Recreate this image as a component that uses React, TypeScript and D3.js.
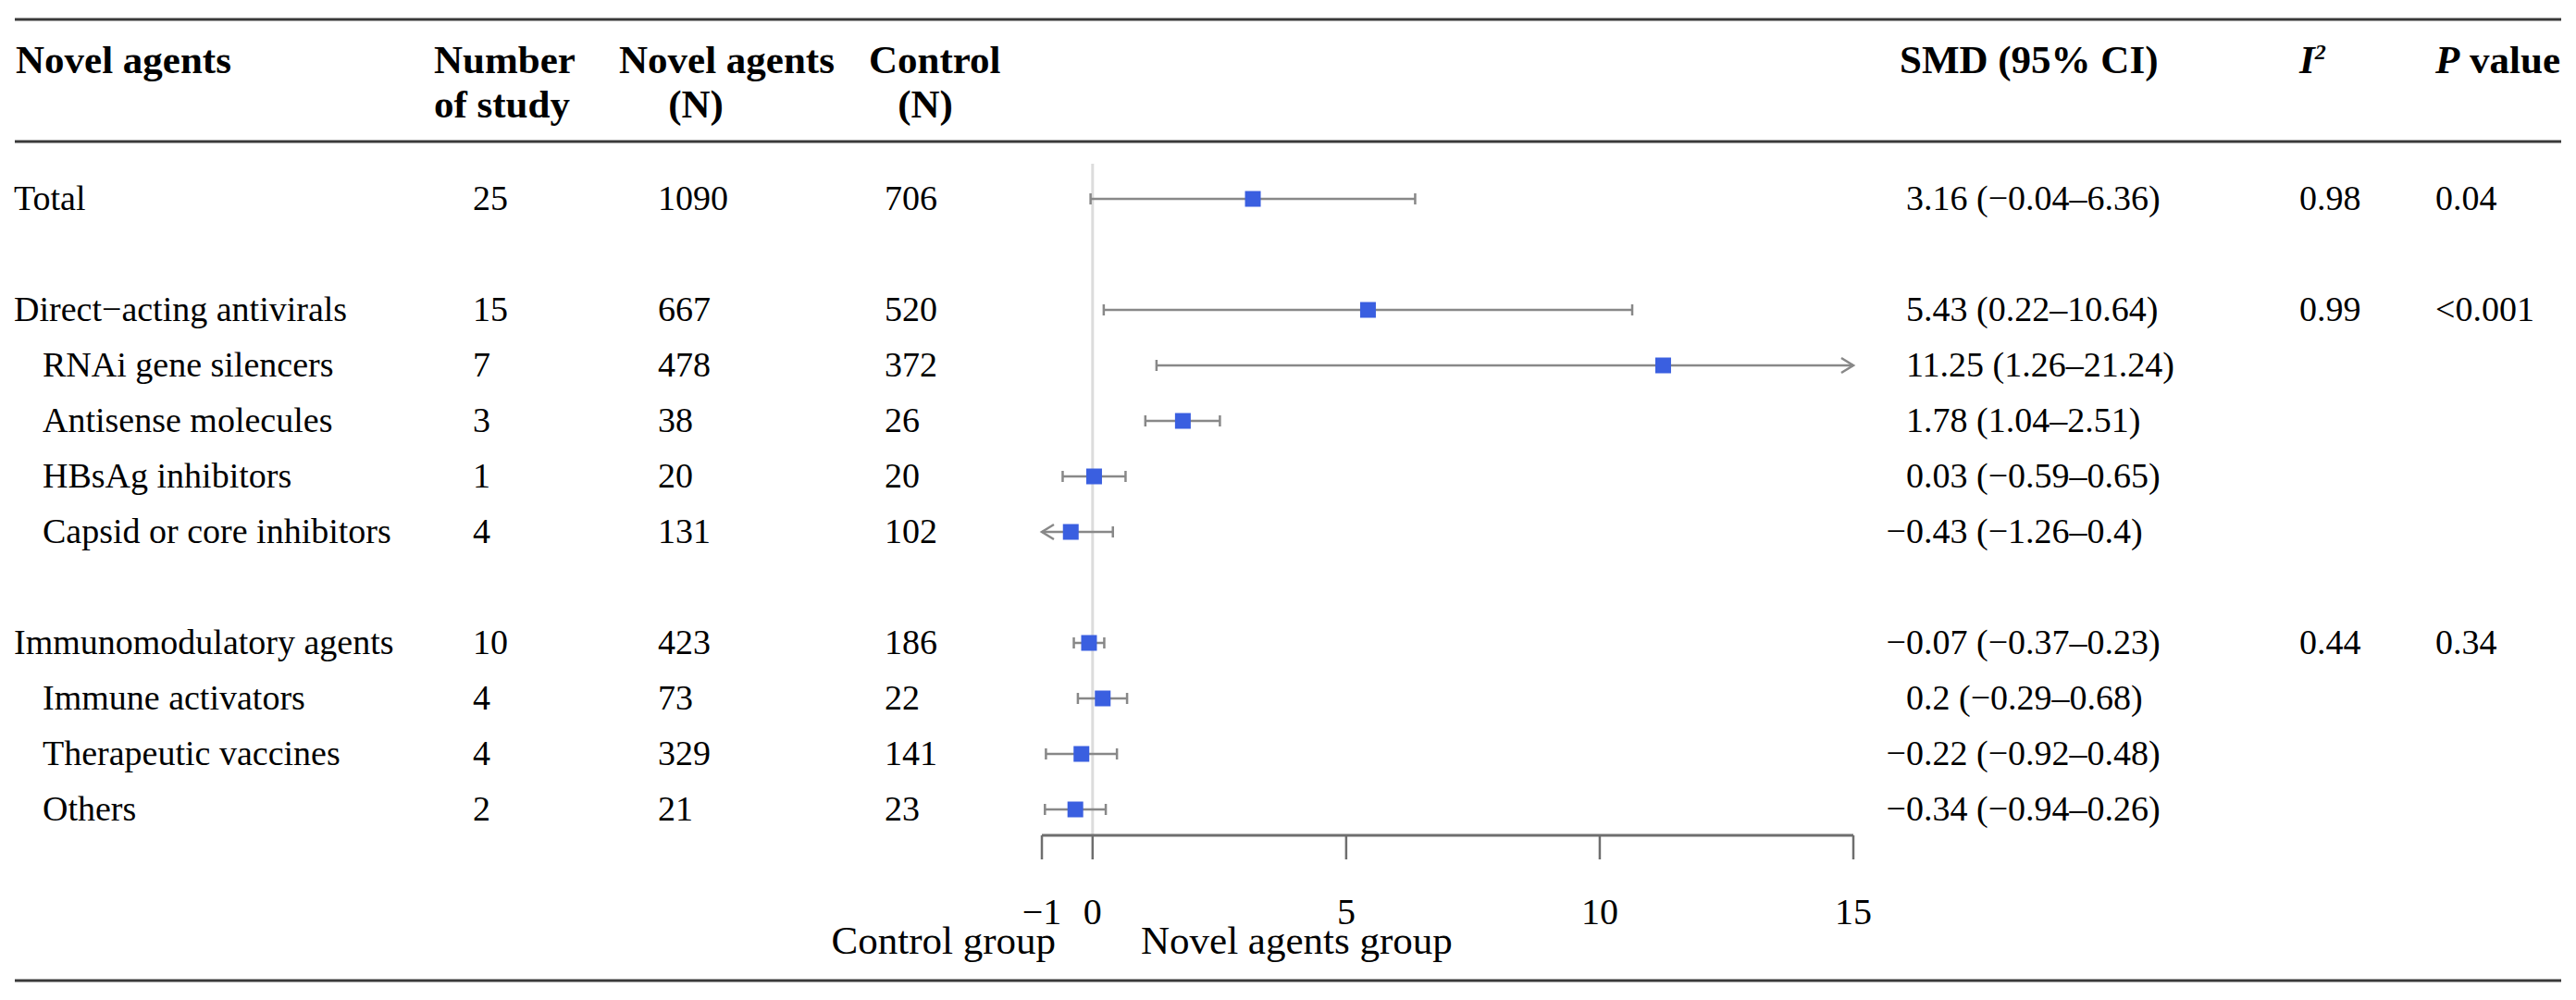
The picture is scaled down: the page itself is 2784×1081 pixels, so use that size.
import React from "react";
import * as d3 from "d3";

const labels = [
  "Total",
  "Direct−acting antivirals",
  "RNAi gene silencers",
  "Antisense molecules",
  "HBsAg inhibitors",
  "Capsid or core inhibitors",
  "Immunomodulatory agents",
  "Immune activators",
  "Therapeutic vaccines",
  "Others",
];
const indent = [0, 0, 1, 1, 1, 1, 0, 1, 1, 1];
const rowSlot = [0, 2, 3, 4, 5, 6, 8, 9, 10, 11];
const nStudy = [25, 15, 7, 3, 1, 4, 10, 4, 4, 2];
const nNovel = [1090, 667, 478, 38, 20, 131, 423, 73, 329, 21];
const nControl = [706, 520, 372, 26, 20, 102, 186, 22, 141, 23];
const smd = [3.16, 5.43, 11.25, 1.78, 0.03, -0.43, -0.07, 0.2, -0.22, -0.34];
const lower = [-0.04, 0.22, 1.26, 1.04, -0.59, -1.26, -0.37, -0.29, -0.92, -0.94];
const upper = [6.36, 10.64, 21.24, 2.51, 0.65, 0.4, 0.23, 0.68, 0.48, 0.26];
const i2 = ["0.98", "0.99", "", "", "", "", "0.44", "", "", ""];
const pValue = ["0.04", "<0.001", "", "", "", "", "0.34", "", "", ""];
const xTicks = [-1, 0, 5, 10, 15];

const W = 2784;
const H = 1081;
const FONT = "'Liberation Serif', 'Times New Roman', serif";
const BODY = 38;
const HEAD = 43;

const fmt = (v: number) => String(v).replace("-", "−");

export default function App() {
  const x = d3.scaleLinear().domain([-1, 15]).range([1126, 2003]);
  const y = d3.scaleLinear().domain([0, 11]).range([215, 875]);
  const axisY = 903;
  const capH = 6;
  const sq = 17;
  const lineColor = "#888888";
  const blue = "#3a5fe0";

  return (
    <svg
      width={W}
      height={H}
      viewBox={`0 0 ${W} ${H}`}
      style={{ position: "absolute", left: 0, top: 0, background: "#fff" }}
      fontFamily={FONT}
    >
      <rect x={0} y={0} width={W} height={H} fill="#fff" />
      {/* rules */}
      <line x1={16} x2={2768} y1={21} y2={21} stroke="#3a3a3a" strokeWidth={3} />
      <line x1={16} x2={2768} y1={153} y2={153} stroke="#3a3a3a" strokeWidth={3} />
      <line x1={16} x2={2768} y1={1060} y2={1060} stroke="#3a3a3a" strokeWidth={3} />

      {/* header */}
      <g fontWeight="bold" fontSize={HEAD} fill="#000">
        <text x={17} y={79}>Novel agents</text>
        <text x={469} y={79}>Number</text>
        <text x={469} y={127}>of study</text>
        <text x={669} y={79}>Novel agents</text>
        <text x={752} y={127} textAnchor="middle">(N)</text>
        <text x={939} y={79}>Control</text>
        <text x={1000} y={127} textAnchor="middle">(N)</text>
        <text x={2053} y={79}>SMD (95% CI)</text>
        <text x={2485} y={79}>
          <tspan fontStyle="italic">I</tspan>
          <tspan fontStyle="italic" fontSize={24} dy={-15}>2</tspan>
        </text>
        <text x={2632} y={79}>
          <tspan fontStyle="italic">P</tspan>
          <tspan> value</tspan>
        </text>
      </g>

      {/* zero line */}
      <line x1={x(0)} x2={x(0)} y1={177} y2={axisY} stroke="#dcdcdc" strokeWidth={3} />

      {/* rows */}
      {labels.map((lab, i) => {
        const cy = y(rowSlot[i]);
        const base = cy + 12;
        const lo = Math.max(lower[i], -1);
        const hi = Math.min(upper[i], 15);
        const loArrow = lower[i] < -1;
        const hiArrow = upper[i] > 15;
        const neg = smd[i] < 0;
        return (
          <g key={lab}>
            <g fontSize={BODY} fill="#000">
              <text x={indent[i] ? 46 : 15} y={base}>{lab}</text>
              <text x={511} y={base}>{nStudy[i]}</text>
              <text x={711} y={base}>{nNovel[i]}</text>
              <text x={956} y={base}>{nControl[i]}</text>
              <text x={neg ? 2060 - 0.564 * BODY : 2060} y={base}>
                {`${fmt(smd[i])} (${fmt(lower[i])}–${fmt(upper[i])})`}
              </text>
              {i2[i] && <text x={2485} y={base}>{i2[i]}</text>}
              {pValue[i] && <text x={2632} y={base}>{pValue[i]}</text>}
            </g>
            <line x1={x(lo)} x2={x(hi)} y1={cy} y2={cy} stroke={lineColor} strokeWidth={2.5} />
            {loArrow ? (
              <polyline
                points={`${x(lo) + 13},${cy - 8} ${x(lo)},${cy} ${x(lo) + 13},${cy + 8}`}
                fill="none"
                stroke={lineColor}
                strokeWidth={2.5}
              />
            ) : (
              <line x1={x(lo)} x2={x(lo)} y1={cy - capH} y2={cy + capH} stroke={lineColor} strokeWidth={2.5} />
            )}
            {hiArrow ? (
              <polyline
                points={`${x(hi) - 13},${cy - 8} ${x(hi)},${cy} ${x(hi) - 13},${cy + 8}`}
                fill="none"
                stroke={lineColor}
                strokeWidth={2.5}
              />
            ) : (
              <line x1={x(hi)} x2={x(hi)} y1={cy - capH} y2={cy + capH} stroke={lineColor} strokeWidth={2.5} />
            )}
            <rect x={x(smd[i]) - sq / 2} y={cy - sq / 2} width={sq} height={sq} fill={blue} />
          </g>
        );
      })}

      {/* axis */}
      <line x1={x(-1)} x2={x(15)} y1={axisY} y2={axisY} stroke="#6e6e6e" strokeWidth={3} />
      {xTicks.map((t) => (
        <g key={t}>
          <line x1={x(t)} x2={x(t)} y1={axisY} y2={axisY + 26} stroke="#6e6e6e" strokeWidth={2.5} />
          <text x={x(t)} y={999} textAnchor="middle" fontSize={40} fill="#000">
            {fmt(t)}
          </text>
        </g>
      ))}
      <text x={1141} y={1031} textAnchor="end" fontSize={43} fill="#000">Control group</text>
      <text x={1233} y={1031} fontSize={43} fill="#000">Novel agents group</text>
    </svg>
  );
}
